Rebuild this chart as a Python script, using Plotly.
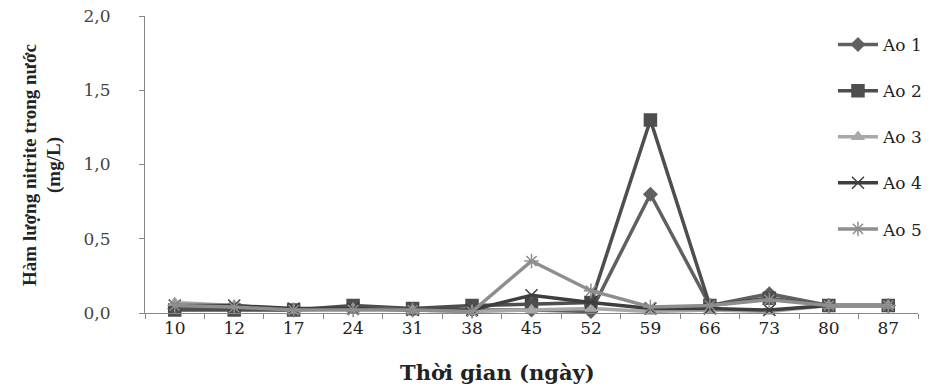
import plotly.graph_objects as go

days = ["10", "12", "17", "24", "31", "38", "45", "52", "59", "66", "73", "80", "87"]
ao1 = [0.03, 0.03, 0.02, 0.04, 0.02, 0.02, 0.02, 0.01, 0.80, 0.05, 0.13, 0.05, 0.05]
ao2 = [0.02, 0.02, 0.02, 0.05, 0.03, 0.05, 0.06, 0.07, 1.30, 0.05, 0.10, 0.05, 0.05]
ao3 = [0.07, 0.05, 0.02, 0.03, 0.02, 0.01, 0.02, 0.03, 0.01, 0.02, 0.01, 0.05, 0.05]
ao4 = [0.05, 0.05, 0.03, 0.03, 0.02, 0.02, 0.12, 0.07, 0.03, 0.03, 0.02, 0.05, 0.05]
ao5 = [0.05, 0.04, 0.02, 0.02, 0.02, 0.01, 0.35, 0.15, 0.04, 0.05, 0.09, 0.05, 0.05]
names = ["Ao 1", "Ao 2", "Ao 3", "Ao 4", "Ao 5"]

series = [ao1, ao2, ao3, ao4, ao5]
colors = ["#606060", "#4e4e4e", "#a8a8a8", "#3e3e3e", "#8e8e8e"]
symbols = ["diamond", "square", "triangle-up", "x-thin-open", "asterisk-open"]
msizes = [10, 12, 10, 12, 12]

fig = go.Figure()
for i, (name, vals) in enumerate(zip(names, series)):
    fig.add_trace(go.Scatter(
        x=days, y=vals, name=name, mode="lines+markers",
        legendgroup=name,
        line=dict(color=colors[i], width=3.5),
        marker=dict(symbol=symbols[i], size=msizes[i], color=colors[i],
                    line=dict(color=colors[i], width=1.5)),
        cliponaxis=False,
    ))

serif = "Liberation Serif"
wide = "DejaVu Serif"
fig.update_layout(
    width=947, height=387,
    margin=dict(l=145, r=29, t=16, b=74, autoexpand=False),
    paper_bgcolor="white", plot_bgcolor="white",
    separators=",.",
    showlegend=True,
    legend=dict(x=0.89, y=0.963, xanchor="left", yanchor="top",
                font=dict(family=wide, size=17, color="#222"),
                tracegroupgap=21, bgcolor="rgba(0,0,0,0)", itemwidth=40),
    xaxis=dict(
        type="category", tickson="boundaries", ticks="outside", ticklen=5,
        range=[-0.5, len(days) - 0.5],
        tickcolor="#888", showline=True, linecolor="#888", linewidth=1,
        showgrid=False, zeroline=False, automargin=False,
        tickfont=dict(family=wide, size=17, color="#222"),
    ),
    yaxis=dict(
        range=[0, 2.0], dtick=0.5, tickformat=".1f", ticks="outside", ticklen=5,
        tickcolor="#888", showline=True, linecolor="#888", linewidth=1,
        showgrid=False, zeroline=False, automargin=False, ticklabelstandoff=25,
        tickfont=dict(family=wide, size=17, color="#444"),
    ),
    annotations=[
        dict(text="<b>Thời gian (ngày)</b>", xref="paper", yref="paper",
             x=0.456, y=-0.199, xanchor="center", yanchor="middle", showarrow=False,
             font=dict(family=wide, size=21, color="#222")),
        dict(text="<b>Hàm lượng nitrite trong nước<br>(mg/L)</b>", xref="paper", yref="paper",
             x=-0.1334, y=0.498, xanchor="center", yanchor="middle", showarrow=False,
             textangle=-90, font=dict(family=serif, size=19, color="#222")),
    ],
)

fig.write_html("out.html", config={"displayModeBar": False},
               post_script="document.body.style.margin='0';")
